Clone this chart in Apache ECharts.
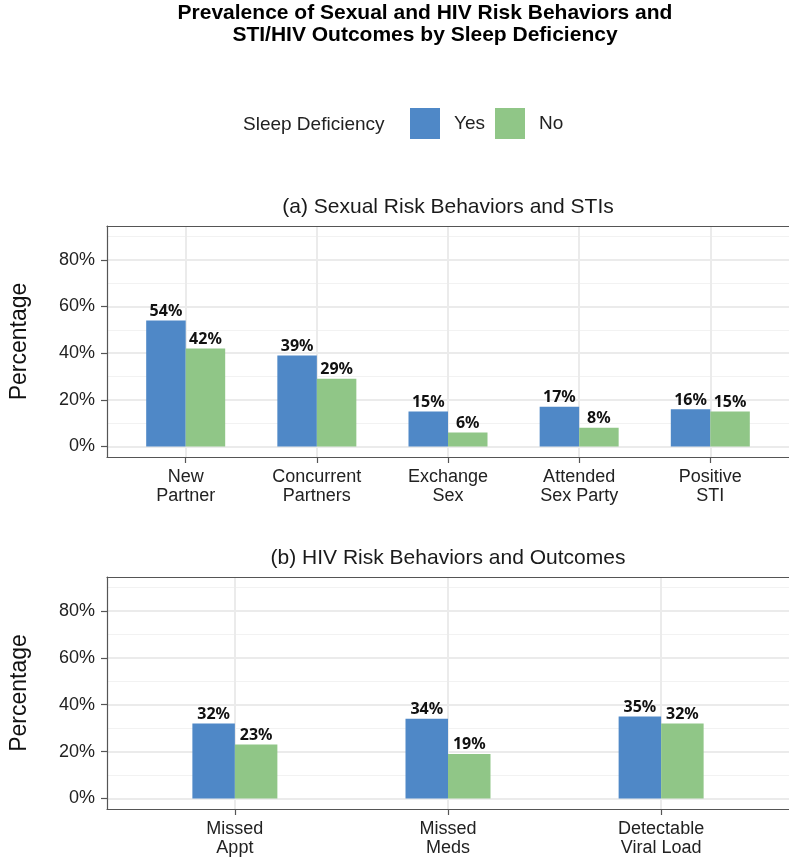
<!DOCTYPE html>
<html>
<head>
<meta charset="utf-8">
<script src="https://cdn.jsdelivr.net/npm/echarts@6/dist/echarts.min.js"></script>
<style>
  html, body { margin: 0; padding: 0; background: #fff; }
  #chart { width: 789px; height: 860px; }
</style>
</head>
<body>
<div id="chart"></div>
<script>
// Sleep deficiency groups
const legendTitle = 'Sleep Deficiency';
const groups = ['Yes', 'No'];

// Panel (a): sexual risk behaviors and STIs
const titleA = '(a) Sexual Risk Behaviors and STIs';
const catsA = ['New\nPartner', 'Concurrent\nPartners', 'Exchange\nSex', 'Attended\nSex Party', 'Positive\nSTI'];
const yesA = [54, 39, 15, 17, 16];
const noA = [42, 29, 6, 8, 15];

// Panel (b): HIV risk behaviors and outcomes
const titleB = '(b) HIV Risk Behaviors and Outcomes';
const catsB = ['Missed\nAppt', 'Missed\nMeds', 'Detectable\nViral Load'];
const yesB = [32, 34, 35];
const noB = [23, 19, 32];

// Percentage axis ticks
const majorTicks = [0, 20, 40, 60, 80];
const minorTicks = [10, 30, 50, 70, 90];

const mainTitle = 'Prevalence of Sexual and HIV Risk Behaviors and\nSTI/HIV Outcomes by Sleep Deficiency';
const yTitle = 'Percentage';

const COLORS = { Yes: '#4f88c7', No: '#90c687' };
const FONT = 'Liberation Sans, Arial, sans-serif';
const BORDER = '#555555';
const GRID_MAJOR = '#ebebeb';
const GRID_MINOR = '#f2f2f2';

const chart = echarts.init(document.getElementById('chart'), null, { renderer: 'canvas' });

const frameLine = { show: true, onZero: false, lineStyle: { color: BORDER, width: 1.2 } };

function panelAxes(gridIndex, cats) {
  const n = cats.length;
  const ticksX = cats.map((_, i) => i + 1);
  const xAxis = {
    type: 'value', gridIndex, min: 0.4, max: n + 0.6, position: 'bottom',
    axisLine: frameLine,
    axisTick: { show: true, customValues: ticksX, length: 6, lineStyle: { color: BORDER, width: 1.2 } },
    axisLabel: {
      customValues: ticksX, margin: 10, fontSize: 18, lineHeight: 19.5,
      fontFamily: FONT, color: '#222', align: 'center',
      formatter: v => cats[Math.round(v) - 1]
    },
    splitLine: { show: true, lineStyle: { color: GRID_MAJOR, width: 2 } }
  };
  // top edge of the panel frame
  const xTop = {
    type: 'value', gridIndex, min: 0.4, max: n + 0.6, position: 'top',
    axisLine: frameLine, axisTick: { show: false }, axisLabel: { show: false }, splitLine: { show: false }
  };
  const yMajor = {
    type: 'value', gridIndex, min: -4.5, max: 94.5, position: 'left',
    name: yTitle, nameLocation: 'middle', nameGap: 76,
    nameTextStyle: { fontSize: 23, fontFamily: FONT, color: '#111' },
    axisLine: frameLine,
    axisTick: { show: true, customValues: majorTicks, length: 6, lineStyle: { color: BORDER, width: 1.2 } },
    axisLabel: { customValues: majorTicks, margin: 12, fontSize: 18, fontFamily: FONT, color: '#222', formatter: v => v + '%' },
    splitLine: { show: true, lineStyle: { color: GRID_MAJOR, width: 2 } }
  };
  const yMinor = {
    type: 'value', gridIndex, min: -4.5, max: 94.5, position: 'left',
    axisLine: { show: false, onZero: false },
    axisTick: { show: false, customValues: minorTicks },
    axisLabel: { show: false, customValues: minorTicks },
    splitLine: { show: true, lineStyle: { color: GRID_MINOR, width: 1 } }
  };
  return { xAxis, xTop, yMajor, yMinor };
}

function barSeries(name, values, xAxisIndex, yAxisIndex, barWidth) {
  return {
    type: 'bar', name, xAxisIndex, yAxisIndex, barWidth, barGap: '0%',
    data: values.map((v, i) => [i + 1, v]),
    itemStyle: { color: COLORS[name] },
    label: {
      show: true, position: 'top', distance: 1,
      fontFamily: 'Noto Sans, sans-serif', fontWeight: 'bold', fontSize: 16, color: '#111',
      formatter: p => p.value[1] + '%'
    },
    z: 3
  };
}

const a = panelAxes(0, catsA);
const b = panelAxes(1, catsB);

const option = {
  backgroundColor: '#fff',
  animation: false,
  textStyle: { fontFamily: FONT },
  grid: [
    { left: 106, top: 226, width: 685, height: 231 },
    { left: 106, top: 577, width: 685, height: 232 }
  ],
  xAxis: [a.xAxis, a.xTop, b.xAxis, b.xTop],
  yAxis: [a.yMajor, a.yMinor, b.yMajor, b.yMinor],
  legend: {
    data: groups, left: 410, top: 108, orient: 'horizontal', padding: 0,
    itemWidth: 30, itemHeight: 31, itemGap: 10, icon: 'rect',
    textStyle: { fontSize: 19, fontFamily: FONT, color: '#222', padding: [0, 0, 0, 9] }
  },
  graphic: [
    { type: 'text', x: 425, y: 24, style: { text: mainTitle, align: 'center', verticalAlign: 'middle', fontSize: 21, fontWeight: 'bold', lineHeight: 22, fontFamily: FONT, fill: '#000' } },
    { type: 'text', x: 243, y: 125, style: { text: legendTitle, align: 'left', verticalAlign: 'middle', fontSize: 19, fontFamily: FONT, fill: '#222' } },
    { type: 'text', x: 448, y: 207, style: { text: titleA, align: 'center', verticalAlign: 'middle', fontSize: 21, fontFamily: FONT, fill: '#1a1a1a' } },
    { type: 'text', x: 448, y: 558, style: { text: titleB, align: 'center', verticalAlign: 'middle', fontSize: 21, fontFamily: FONT, fill: '#1a1a1a' } }
  ],
  series: [
    barSeries('Yes', yesA, 0, 0, 39.5),
    barSeries('No', noA, 0, 0, 39.5),
    barSeries('Yes', yesB, 2, 2, 42.5),
    barSeries('No', noB, 2, 2, 42.5)
  ]
};

chart.setOption(option);
</script>
</body>
</html>
